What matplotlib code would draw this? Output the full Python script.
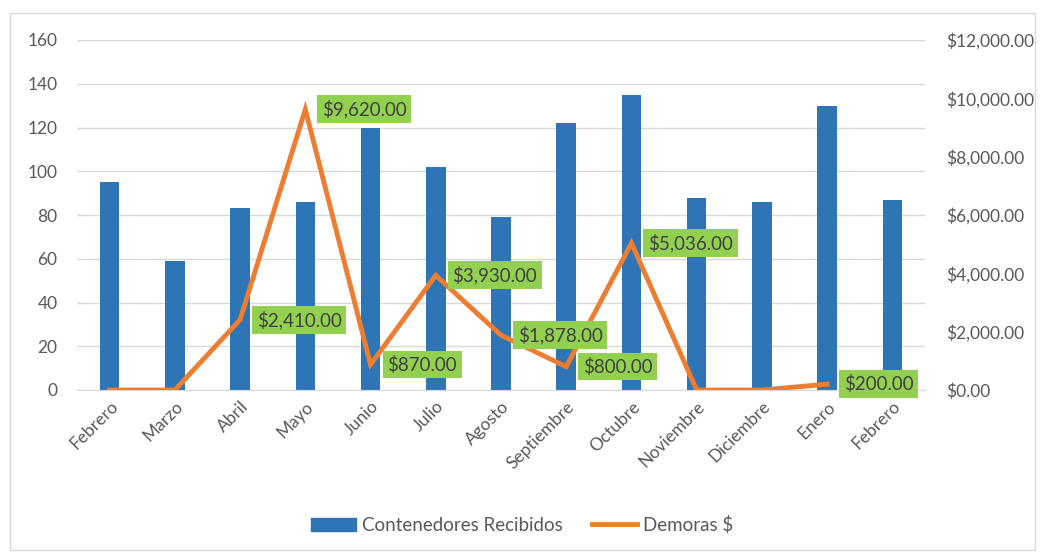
import matplotlib
matplotlib.use("Agg")
import matplotlib.pyplot as plt
import numpy as np
from matplotlib.patches import Rectangle
from matplotlib.lines import Line2D
from matplotlib.ticker import FuncFormatter

months = ["Febrero", "Marzo", "Abril", "Mayo", "Junio", "Julio", "Agosto",
          "Septiembre", "Octubre", "Noviembre", "Diciembre", "Enero", "Febrero"]
contenedores = [95, 59, 83, 86, 120, 102, 79, 122, 135, 88, 86, 130, 87]
demoras = [0, 0, 2410, 9620, 870, 3930, 1878, 800, 5036, 0, 0, 200, np.nan]

plt.rcParams['font.family'] = ['Lato', 'DejaVu Sans']
txt = '#595959'
fig = plt.figure(figsize=(10.44, 5.56), dpi=100)
fig.patches.append(Rectangle((10/1044, 1-550/556), 1025/1044, 537/556, transform=fig.transFigure,
                             fill=False, edgecolor='#D9D9D9', lw=1))
ax = fig.add_axes([77/1044, 1-390/556, 848/1044, 350/556])
x = np.arange(len(months))
ax.bar(x, contenedores, width=0.3, color='#2E75B6', zorder=2)
ax.set_xlim(-0.5, len(months)-0.5)
ax.set_ylim(0, 160)
ax.set_yticks(range(0, 161, 20))
ax.grid(axis='y', color='#D9D9D9', lw=1, zorder=0)
for s in ['top', 'right', 'left']:
    ax.spines[s].set_visible(False)
ax.spines['bottom'].set_color('#D9D9D9')
ax.tick_params(axis='both', length=0, colors=txt, labelsize=12.5)
ax.tick_params(axis='y', pad=14)
ax.tick_params(axis='x', pad=6)
ax.set_xticks(x)
ax.set_xticklabels(months, rotation=45, ha='right', rotation_mode='anchor')

ax2 = ax.twinx()
ax2.plot(x, demoras, color='#ED7D31', lw=3.5, zorder=3, solid_joinstyle='miter')
ax2.set_ylim(0, 12000)
ax2.set_yticks(range(0, 12001, 2000))
ax2.yaxis.set_major_formatter(FuncFormatter(lambda v, p: f"${v:,.2f}"))
for s in ['top', 'right', 'left', 'bottom']:
    ax2.spines[s].set_visible(False)
ax2.tick_params(axis='y', length=0, colors=txt, labelsize=12.5, pad=15)
ax.set_zorder(1)
ax2.set_zorder(2)

for xi, v in zip(x, demoras):
    if np.isnan(v) or v == 0:
        continue
    ax2.annotate(f"${v:,.2f}", (xi, v), xytext=(12, 0), textcoords='offset points',
                 ha='left', va='center', fontsize=13.5, color='#404040',
                 bbox=dict(boxstyle='square,pad=0.25', fc='#92D050', ec='none'), zorder=5)

handles = [Rectangle((0, 0), 1, 1, color='#2E75B6'),
           Line2D([0], [0], color='#ED7D31', lw=3.5)]
fig.legend(handles, ["Contenedores Recibidos", "Demoras $"], loc='center',
           bbox_to_anchor=(0.5, 1-525/556), ncol=2, frameon=False, fontsize=13.5,
           labelcolor=txt, handlelength=2.4, columnspacing=1.6, handletextpad=0.3)
fig.savefig("out.png", dpi=100)
